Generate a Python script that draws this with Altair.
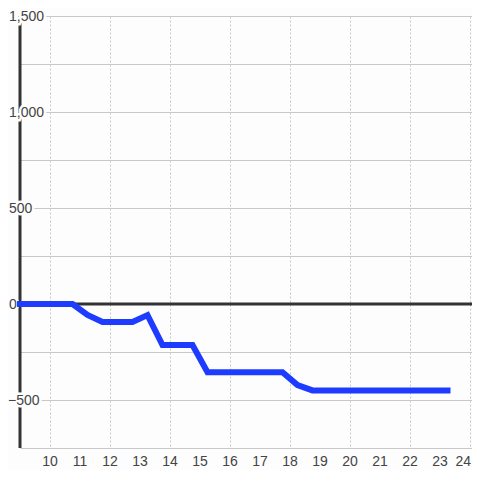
import altair as alt
import pandas as pd

# data
hours = [9, 10.75, 11.25, 11.75, 12.75, 13.25, 13.75, 14.75, 15.25, 17.75, 18.25, 18.75, 23.25]
values = [0, 0, -57, -94, -94, -58, -214, -214, -355, -355, -422, -450, -450]

x_ticks = list(range(10, 25))
x_labels = [str(t) for t in x_ticks]
y_grid = [-750, -500, -250, 0, 250, 500, 750, 1000, 1250, 1500]
y_labels_pos = [1500, 1000, 500, 0]
y_labels_neg = [-500]
x_domain = [9, 24.0667]
y_domain = [-750, 1500]

BG = "#fcfdfc"
GRID = "#c8c8c8"
AXIS = "#333333"
LINE = "#1e3cff"
TXT = "#444444"
FONT = "Liberation Sans"

df = pd.DataFrame({"h": hours, "v": values})
xl_main = pd.DataFrame({"h": x_ticks[:-1], "t": x_labels[:-1]})
xl_last = pd.DataFrame({"h": x_ticks[-1:], "t": x_labels[-1:]})

xscale = alt.Scale(domain=x_domain, nice=False, zero=False)
yscale = alt.Scale(domain=y_domain, nice=False, zero=False)

line = alt.Chart(df).mark_line(
    color=LINE, strokeWidth=6, strokeCap="square", strokeJoin="miter"
).encode(
    x=alt.X("h:Q", scale=xscale, axis=alt.Axis(
        values=x_ticks, grid=True, gridDash=[2, 2], gridColor=GRID, gridWidth=1,
        domain=False, ticks=False, labels=False, title=None)),
    y=alt.Y("v:Q", scale=yscale, axis=alt.Axis(
        values=y_grid, grid=True, gridColor=GRID, gridWidth=1, labels=False,
        domain=False, ticks=False, title=None)),
)

xlabels = alt.Chart(xl_main).mark_text(
    align="center", baseline="top", fontSize=14, font=FONT, color=TXT, dy=7
).encode(x=alt.X("h:Q", scale=xscale), y=alt.value(432), text="t:N")

xlabel_last = alt.Chart(xl_last).mark_text(
    align="right", baseline="top", fontSize=14, font=FONT, color=TXT, dy=7, dx=1
).encode(x=alt.X("h:Q", scale=xscale), y=alt.value(432), text="t:N")

zero_rule = alt.Chart(pd.DataFrame({"y": [0]})).mark_rule(
    color=AXIS, strokeWidth=3
).encode(y=alt.Y("y:Q", scale=yscale))

yaxis_rule = alt.Chart(pd.DataFrame({"x": [x_domain[0]]})).mark_rule(
    color=AXIS, strokeWidth=3
).encode(x=alt.X("x:Q", scale=xscale))

pos_df = pd.DataFrame({"v": y_labels_pos})
neg_df = pd.DataFrame({"v": y_labels_neg})


def label_layers(d, xpx):
    bg = alt.Chart(d).mark_text(
        align="left", baseline="middle", dy=1, fontSize=14, font=FONT,
        fill=BG, stroke=BG, strokeWidth=5
    ).encode(y=alt.Y("v:Q", scale=yscale), x=alt.value(xpx),
             text=alt.Text("v:Q", format=","))
    fg = alt.Chart(d).mark_text(
        align="left", baseline="middle", dy=1, fontSize=14, font=FONT, color=TXT
    ).encode(y=alt.Y("v:Q", scale=yscale), x=alt.value(xpx),
             text=alt.Text("v:Q", format=","))
    return bg, fg


pbg, pfg = label_layers(pos_df, -11)
nbg, nfg = label_layers(neg_df, -12)

chart = alt.layer(
    zero_rule, yaxis_rule, pbg, nbg, pfg, nfg, xlabels, xlabel_last, line,
).properties(
    width=452, height=432,
    autosize=alt.AutoSizeParams(type="none"),
    padding={"left": 12, "top": 8, "right": 0, "bottom": 22},
    background=BG,
).configure_view(stroke=None)

chart.save("out.html", embed_options={"renderer": "svg", "actions": False})
